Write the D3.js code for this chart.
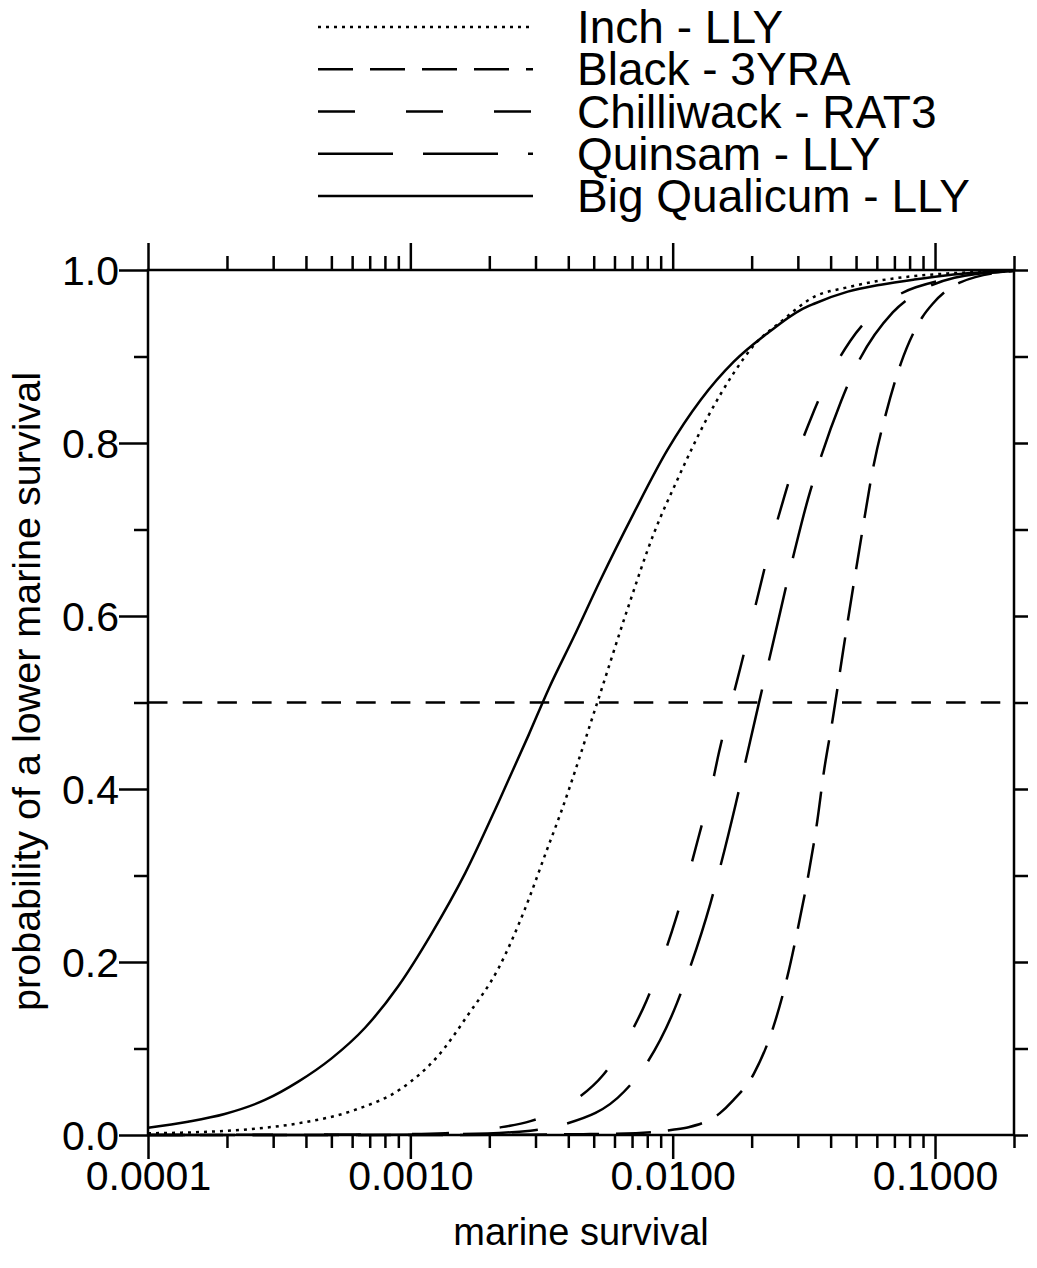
<!DOCTYPE html>
<html lang="en">
<head>
<meta charset="UTF-8">
<title>Probability of a lower marine survival</title>
<script src="https://d3js.org/d3.v7.min.js"></script>
<style>
    body { margin: 0; background: #fff; }
    text { font-family: "Liberation Sans", Arial, sans-serif; fill: #000; }
    .axis path { display: none; }
    .axis line { stroke: #000; stroke-width: 2.5px; }
    .frame { fill: none; stroke: #000; stroke-width: 2.5px; }
    .curve { fill: none; stroke: #000; stroke-width: 2.5px; }
</style>
</head>
<body>
<script>
    // series: marine survival (x) and probability of a lower survival (p)
    const seriesNames = ['Inch - LLY', 'Black - 3YRA', 'Chilliwack - RAT3', 'Quinsam - LLY', 'Big Qualicum - LLY'];

    const inchX = [0.0001, 0.000134, 0.000241, 0.000374, 0.000615, 0.000927, 0.00128, 0.00166, 0.00217, 0.00274,
        0.00331, 0.00374, 0.00516, 0.00671, 0.00849, 0.0104, 0.0136, 0.0171, 0.0204, 0.0258,
        0.0346, 0.0465, 0.0622, 0.0834, 0.1117, 0.2];
    const inchP = [0.002, 0.0027, 0.0066, 0.0135, 0.029, 0.054, 0.092, 0.139, 0.193, 0.262,
        0.329, 0.372, 0.500, 0.607, 0.696, 0.757, 0.830, 0.881, 0.913, 0.940,
        0.969, 0.980, 0.988, 0.993, 0.996, 0.999];

    const blackX = [0.0001, 0.001, 0.00457, 0.00724, 0.0100, 0.0115, 0.0151, 0.0170, 0.0204, 0.0242,
        0.0274, 0.0302, 0.0330, 0.0355, 0.0377, 0.0407, 0.0447, 0.0514, 0.0586, 0.0650,
        0.0741, 0.0897, 0.0980, 0.1256, 0.2];
    const blackP = [0, 0, 0.001, 0.002, 0.006, 0.009, 0.025, 0.040, 0.071, 0.125,
        0.184, 0.243, 0.303, 0.361, 0.420, 0.480, 0.561, 0.676, 0.777, 0.834,
        0.892, 0.946, 0.961, 0.986, 0.999];

    const chilliwackX = [0.0001, 0.00099, 0.00136, 0.00211, 0.00287, 0.00433, 0.00542, 0.00692, 0.00794, 0.00931,
        0.01026, 0.01161, 0.01259, 0.01406, 0.01503, 0.01675, 0.01807, 0.0242, 0.0264, 0.0301,
        0.0337, 0.0404, 0.0475, 0.0640, 0.0845, 0.2];
    const chilliwackP = [0, 0.001, 0.002, 0.008, 0.016, 0.042, 0.069, 0.118, 0.155, 0.210,
        0.249, 0.306, 0.346, 0.402, 0.443, 0.500, 0.539, 0.694, 0.734, 0.790,
        0.829, 0.882, 0.918, 0.960, 0.980, 0.999];

    const quinsamX = [0.0001, 0.0005, 0.00155, 0.00287, 0.00383, 0.00652, 0.00789, 0.0104, 0.0115, 0.0139,
        0.0150, 0.0174, 0.0186, 0.0213, 0.0238, 0.0292, 0.0327, 0.0356, 0.0438, 0.0492,
        0.0690, 0.0871, 0.1186, 0.2];
    const quinsamP = [0, 0, 0.001, 0.005, 0.012, 0.050, 0.081, 0.153, 0.189, 0.267,
        0.304, 0.383, 0.421, 0.499, 0.561, 0.676, 0.734, 0.771, 0.848, 0.884,
        0.951, 0.975, 0.991, 0.999];

    const bigQualicumX = [0.0001, 0.000142, 0.000196, 0.000279, 0.000374, 0.000501, 0.000672, 0.000899, 0.00120, 0.00162,
        0.00217, 0.00282, 0.00337, 0.00420, 0.00531, 0.00711, 0.00955, 0.0128, 0.0171, 0.0230,
        0.0308, 0.0346, 0.0465, 0.0622, 0.0834, 0.1117, 0.2];
    const bigQualicumP = [0.0085, 0.0154, 0.0243, 0.0405, 0.0617, 0.0886, 0.124, 0.172, 0.232, 0.303,
        0.385, 0.462, 0.516, 0.576, 0.642, 0.719, 0.792, 0.850, 0.894, 0.927,
        0.954, 0.961, 0.975, 0.983, 0.989, 0.994, 0.999];

    const referenceP = 0.5;

    const xMajorTicks = [0.0001, 0.001, 0.01, 0.1];
    const yMajorTicks = [0, 0.2, 0.4, 0.6, 0.8, 1.0];
    const yMinorTicks = [0.1, 0.3, 0.5, 0.7, 0.9];

    const seriesX = [inchX, blackX, chilliwackX, quinsamX, bigQualicumX];
    const seriesP = [inchP, blackP, chilliwackP, quinsamP, bigQualicumP];
    const dashes = ['3,5', '35,17', '37,51', '75,30', null];

    const width = 1037;
    const height = 1268;
    const margin = { top: 270, right: 23, bottom: 133, left: 148 };

    const svg = d3.select('body').append('svg')
        .attr('width', width)
        .attr('height', height);

    const x = d3.scaleLog()
        .domain([0.0001, 0.2])
        .range([margin.left, width - margin.right]);

    const y = d3.scaleLinear()
        .domain([0, 1])
        .range([height - margin.bottom, margin.top]);

    const xMinorTicks = [];
    xMajorTicks.forEach(d => {
        for (let k = 2; k <= 9; k++) {
            const v = d * k;
            if (v <= 0.2 + 1e-9) xMinorTicks.push(v);
        }
    });
    const yAllTicks = yMajorTicks.concat(yMinorTicks);

    const x0 = x.range()[0], x1 = x.range()[1];
    const y0 = y.range()[0], y1 = y.range()[1];

    // axes: ticks point outward on every side
    function addAxis(axis, transform) {
        const g = svg.append('g')
            .attr('class', 'axis')
            .attr('transform', transform)
            .call(axis);
        g.selectAll('text')
            .attr('font-family', '"Liberation Sans", Arial, sans-serif')
            .attr('font-size', 41)
            .attr('fill', '#000');
        return g;
    }

    const bottomMajor = addAxis(d3.axisBottom(x).tickValues(xMajorTicks).tickSize(24).tickSizeOuter(0)
        .tickFormat(d3.format('.4f')), `translate(0,${y0})`);
    bottomMajor.selectAll('text').attr('y', 55).attr('dy', 0);
    addAxis(d3.axisBottom(x).tickValues(xMinorTicks).tickSize(13).tickSizeOuter(0).tickFormat(''), `translate(0,${y0})`);

    addAxis(d3.axisTop(x).tickValues(xMajorTicks).tickSize(27).tickSizeOuter(0).tickFormat(''), `translate(0,${y1})`);
    addAxis(d3.axisTop(x).tickValues(xMinorTicks).tickSize(14).tickSizeOuter(0).tickFormat(''), `translate(0,${y1})`);

    const leftMajor = addAxis(d3.axisLeft(y).tickValues(yMajorTicks).tickSize(29).tickSizeOuter(0)
        .tickFormat(d3.format('.1f')), `translate(${x0},0)`);
    leftMajor.selectAll('text').attr('x', -29).attr('dy', '0.36em');
    addAxis(d3.axisLeft(y).tickValues(yMinorTicks).tickSize(14).tickSizeOuter(0).tickFormat(''), `translate(${x0},0)`);

    addAxis(d3.axisRight(y).tickValues(yAllTicks).tickSize(14).tickSizeOuter(0).tickFormat(''), `translate(${x1},0)`);

    svg.append('rect')
        .attr('class', 'frame')
        .attr('x', x0)
        .attr('y', y1)
        .attr('width', x1 - x0)
        .attr('height', y0 - y1);

    // 50% reference line
    svg.append('line')
        .attr('x1', x0)
        .attr('x2', x1)
        .attr('y1', y(referenceP))
        .attr('y2', y(referenceP))
        .attr('stroke', '#000')
        .attr('stroke-width', 2.5)
        .attr('stroke-dasharray', '19.5,15.2');

    const line = d3.line()
        .x(d => x(d[0]))
        .y(d => y(d[1]))
        .curve(d3.curveMonotoneX);

    seriesNames.forEach((name, i) => {
        const pts = seriesX[i].map((v, j) => [v, seriesP[i][j]]);
        svg.append('path')
            .datum(pts)
            .attr('class', 'curve')
            .attr('d', line)
            .attr('stroke-dasharray', dashes[i]);
    });

    // legend
    const legend = svg.append('g').attr('class', 'legend');
    seriesNames.forEach((name, i) => {
        const base = 43 + i * 42.25;
        legend.append('line')
            .attr('x1', 318)
            .attr('x2', 533)
            .attr('y1', base - 16)
            .attr('y2', base - 16)
            .attr('stroke', '#000')
            .attr('stroke-width', 2.5)
            .attr('stroke-dasharray', dashes[i]);
        legend.append('text')
            .attr('x', 577)
            .attr('y', base)
            .attr('font-size', 46)
            .text(name);
    });

    svg.append('text')
        .attr('x', (x0 + x1) / 2)
        .attr('y', 1245)
        .attr('text-anchor', 'middle')
        .attr('font-size', 38)
        .text('marine survival');

    svg.append('text')
        .attr('transform', `translate(40,${(y0 + y1) / 2 - 11}) rotate(-90)`)
        .attr('text-anchor', 'middle')
        .attr('font-size', 39.5)
        .text('probability of a lower marine survival');
</script>
</body>
</html>
